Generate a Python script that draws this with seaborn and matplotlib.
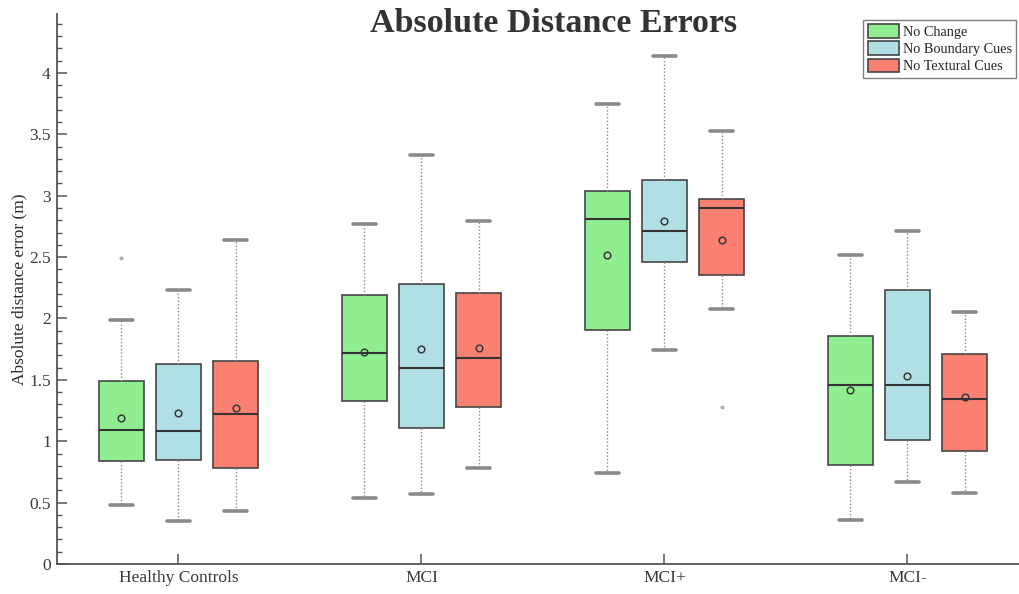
import matplotlib
matplotlib.use("Agg")
import matplotlib.pyplot as plt
from matplotlib.ticker import MultipleLocator
import numpy as np
import pandas as pd
import seaborn as sns

# Groups, conditions and colours
groups = ["Healthy Controls", "MCI", "MCI+", "MCI-"]
conditions = ["No Change", "No Boundary Cues", "No Textural Cues"]
colors = ["#90EE90", "#B0E0E6", "#FA8072"]

# Box statistics per condition (rows) and group (columns), in metres
whisker_low = [[0.48, 0.54, 0.74, 0.36],
               [0.35, 0.57, 1.74, 0.67],
               [0.43, 0.78, 2.08, 0.58]]
quartile_1 = [[0.84, 1.33, 1.91, 0.81],
              [0.85, 1.11, 2.46, 1.01],
              [0.78, 1.28, 2.35, 0.92]]
median = [[1.09, 1.72, 2.81, 1.46],
          [1.08, 1.60, 2.71, 1.46],
          [1.22, 1.68, 2.90, 1.34]]
quartile_3 = [[1.49, 2.19, 3.04, 1.86],
              [1.63, 2.28, 3.13, 2.23],
              [1.65, 2.21, 2.97, 1.71]]
whisker_high = [[1.99, 2.77, 3.75, 2.52],
                [2.23, 3.33, 4.14, 2.71],
                [2.64, 2.79, 3.53, 2.05]]
mean = [[1.19, 1.73, 2.52, 1.42],
        [1.23, 1.75, 2.79, 1.53],
        [1.27, 1.76, 2.64, 1.36]]

# Outlying observations
outlier_group = ["Healthy Controls", "MCI+"]
outlier_condition = ["No Change", "No Textural Cues"]
outlier_value = [2.49, 1.28]

# Long-form tables
rows = []
for ci, cond in enumerate(conditions):
    for gi, grp in enumerate(groups):
        for stat in (whisker_low, quartile_1, median, quartile_3, whisker_high):
            rows.append({"group": grp, "condition": cond, "value": stat[ci][gi]})
box_df = pd.DataFrame(rows)
mean_df = pd.DataFrame([
    {"group": grp, "condition": cond, "value": mean[ci][gi]}
    for ci, cond in enumerate(conditions) for gi, grp in enumerate(groups)
])
outlier_df = pd.DataFrame({"group": outlier_group,
                           "condition": outlier_condition,
                           "value": outlier_value})

sns.set_style("ticks")
plt.rcParams["font.family"] = ["Liberation Serif", "DejaVu Serif"]

fig = plt.figure(figsize=(10.2, 5.94), dpi=100)
ax = fig.add_axes([57 / 1020, 30 / 594, 963 / 1020, 550 / 594])

palette = dict(zip(conditions, colors))
grid_gray = "#8a8a8a"
box_width = 0.705

sns.boxplot(data=box_df, x="group", y="value", hue="condition",
            order=groups, hue_order=conditions, palette=palette,
            saturation=1, width=box_width, gap=0.213, whis=(0, 100),
            linecolor="#454545", linewidth=1.2, fliersize=0,
            whiskerprops=dict(linestyle=(0, (1, 1.5)), color=grid_gray, linewidth=1.0),
            capprops=dict(color=grid_gray, linewidth=2.6),
            medianprops=dict(color="#333333", linewidth=1.5),
            ax=ax)

# Mean markers, dodged to sit on the box centres
sns.pointplot(data=mean_df, x="group", y="value", hue="condition",
              order=groups, hue_order=conditions, palette=palette,
              dodge=box_width * 2 / 3, errorbar=None, linestyle="none",
              markers="o", markersize=4.8, markerfacecolor="none",
              markeredgecolor="#3a3a3a", markeredgewidth=1.1,
              legend=False, ax=ax)

# Outliers as tiny grey points
sns.pointplot(data=outlier_df, x="group", y="value", hue="condition",
              order=groups, hue_order=conditions,
              palette={c: "#a0a0a0" for c in conditions},
              dodge=box_width * 2 / 3, errorbar=None, linestyle="none",
              markers="o", markersize=0.8, legend=False, ax=ax)

ax.set_xlim(-0.5, 3.463)
ax.set_ylim(0, 4.48)
ax.yaxis.set_major_locator(MultipleLocator(0.5))
ax.yaxis.set_minor_locator(MultipleLocator(0.1))
ax.set_yticks(np.arange(0, 4.01, 0.5))
ax.set_yticklabels(["0", "0.5", "1", "1.5", "2", "2.5", "3", "3.5", "4"])

spine_color = "#555555"
for side in ("top", "right"):
    ax.spines[side].set_visible(False)
for side in ("left", "bottom"):
    ax.spines[side].set_color(spine_color)
    ax.spines[side].set_linewidth(1.3)

ax.tick_params(axis="both", which="major", direction="in", length=7,
               width=1.1, color=spine_color, labelsize=12.5,
               labelcolor="#3a3a3a", pad=4.5)
ax.tick_params(axis="y", which="minor", direction="in", length=3.6,
               width=1.0, color=spine_color)

ax.set_xlabel("")
ax.set_ylabel("Absolute distance error (m)", fontsize=12.5, color="#2a2a2a",
              labelpad=1)

leg = ax.get_legend()
handles = leg.legend_handles
labels = [t.get_text() for t in leg.get_texts()]
leg.remove()
ax.legend(handles, labels, loc="upper right", bbox_to_anchor=(0.996, 0.989),
          frameon=True, fancybox=False, edgecolor="#808080", framealpha=1,
          prop={"family": "Liberation Serif", "size": 10.3},
          handlelength=2.2, handleheight=1.12, borderpad=0.3,
          labelspacing=0.16, handletextpad=0.25, borderaxespad=0)

fig.text(554 / 1020, 1 - 23 / 594, "Absolute Distance Errors",
         ha="center", va="center", fontsize=24.5, fontweight="bold",
         color="#333333", family=["Liberation Serif", "DejaVu Serif"])

fig.savefig("out.png", dpi=100)
